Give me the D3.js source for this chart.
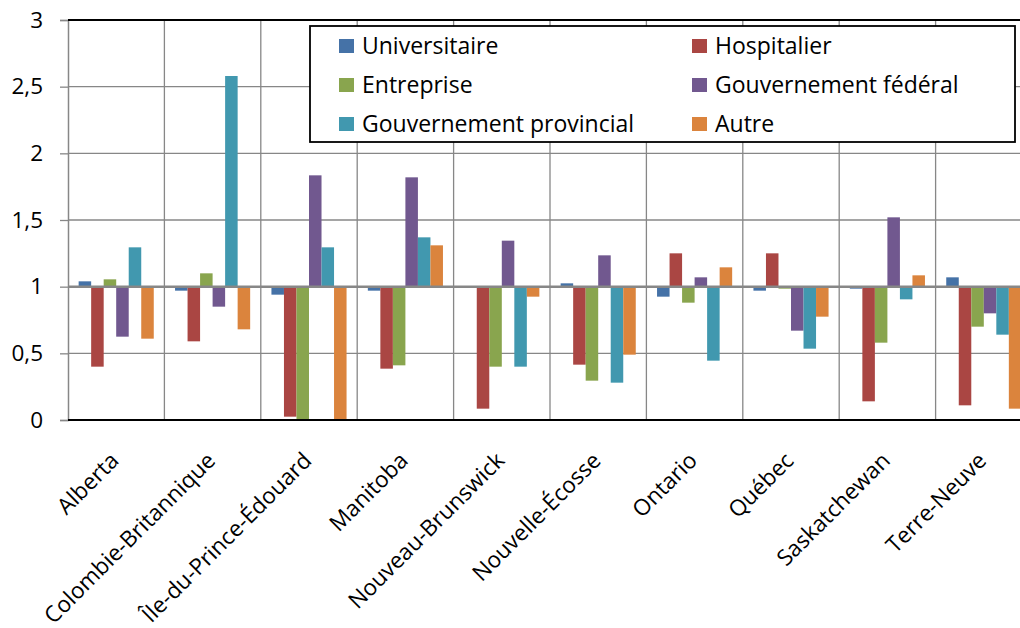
<!DOCTYPE html>
<html><head><meta charset="utf-8">
<script src="https://cdn.jsdelivr.net/npm/d3@7"></script>
<style>body{margin:0;background:#fff}svg{display:block}text{font-family:"Open Sans",sans-serif;fill:#000}</style>
</head><body><svg width="1020" height="628"></svg>
<script>
const categories = ["Alberta","Colombie-Britannique","Île-du-Prince-Édouard","Manitoba","Nouveau-Brunswick","Nouvelle-Écosse","Ontario","Québec","Saskatchewan","Terre-Neuve"];
const seriesNames = ["Universitaire","Hospitalier","Entreprise","Gouvernement fédéral","Gouvernement provincial","Autre"];
const universitaire = [1.04,0.97,0.94,0.97,1.0,1.025,0.925,0.97,0.985,1.07];
const hospitalier   = [0.40,0.59,0.025,0.385,0.085,0.415,1.25,1.25,0.14,0.11];
const entreprise    = [1.055,1.10,0.0,0.41,0.40,0.295,0.88,0.985,0.58,0.70];
const federal       = [0.625,0.85,1.835,1.82,1.345,1.235,1.07,0.67,1.52,0.80];
const provincial    = [1.295,2.58,1.295,1.37,0.40,0.28,0.445,0.535,0.905,0.64];
const autre         = [0.61,0.68,0.0,1.31,0.925,0.49,1.145,0.775,1.085,0.085];
const yTicks = [0,0.5,1,1.5,2,2.5,3];
const colors = ["#4572A7","#AA4643","#89A54E","#71588F","#4198AF","#DB843D"];
const seriesValues = [universitaire,hospitalier,entreprise,federal,provincial,autre];

const svg = d3.select("svg");
const L = 68, T = 20, B = 420, step = 96.4;
const x = d3.scaleBand().domain(categories).range([L, L + step*categories.length]).padding(0);
const xi = d3.scaleBand().domain(seriesNames).range([0, x.bandwidth()]).paddingInner(0).paddingOuter(0.85);
const y = d3.scaleLinear().domain([0,3]).range([B, T]);
const fmt = v => String(v).replace(".", ",");

// horizontal gridlines
svg.append("g").selectAll("line").data(yTicks.filter(t => t!==0 && t!==3 && t!==1)).join("line")
  .attr("x1", L).attr("x2", 1020).attr("y1", d=>y(d)).attr("y2", d=>y(d))
  .attr("stroke", "#878787").attr("stroke-width", 1.3);
// vertical gridlines at category boundaries
svg.append("g").selectAll("line").data(categories.slice(1)).join("line")
  .attr("x1", d=>x(d)).attr("x2", d=>x(d)).attr("y1", T).attr("y2", B)
  .attr("stroke", "#878787").attr("stroke-width", 1.3);

// bars from baseline 1
const data = [];
categories.forEach((c,i)=>seriesNames.forEach((s,j)=>data.push({c,s,v:seriesValues[j][i],col:colors[j]})));
svg.append("g").selectAll("rect").data(data).join("rect")
  .attr("x", d=>x(d.c)+xi(d.s))
  .attr("width", xi.bandwidth())
  .attr("y", d=>y(Math.max(d.v,1)))
  .attr("height", d=>Math.abs(y(d.v)-y(1)))
  .attr("fill", d=>d.col);

// left axis
const yAxis = d3.axisLeft(y).tickValues(yTicks).tickFormat(fmt).tickSize(8).tickPadding(17);
const ga = svg.append("g").attr("transform", `translate(${L},0)`).call(yAxis);
ga.select(".domain").attr("stroke","#878787").attr("stroke-width",1.5);
ga.selectAll(".tick line").attr("stroke","#878787").attr("stroke-width",1.3);
ga.selectAll(".tick text").attr("font-size",22.5).attr("font-family","Open Sans").attr("fill","#000");

// baseline at 1
svg.append("line").attr("x1",L).attr("x2",1020).attr("y1",y(1)).attr("y2",y(1)).attr("stroke","#878787").attr("stroke-width",2.5);
// top and bottom lines
svg.append("line").attr("x1",L).attr("x2",1020).attr("y1",y(0)).attr("y2",y(0)).attr("stroke","#000").attr("stroke-width",1.8);
svg.append("line").attr("x1",L).attr("x2",1020).attr("y1",y(3)).attr("y2",y(3)).attr("stroke","#000").attr("stroke-width",1.8);

// category labels
svg.append("g").selectAll("text").data(categories).join("text")
  .attr("transform", d=>`translate(${x(d)+x.bandwidth()/2+4},${B+42}) rotate(-45)`)
  .attr("text-anchor","end").attr("font-size",22.5).text(d=>d);

// legend
const lg = svg.append("g");
lg.append("rect").attr("x",310).attr("y",26).attr("width",705).attr("height",116)
  .attr("fill","#fff").attr("stroke","#000").attr("stroke-width",1.8);
seriesNames.forEach((s,j)=>{
  const col = j%2, row = Math.floor(j/2);
  const sx = col===0 ? 339 : 692, cy = 46 + row*39;
  lg.append("rect").attr("x",sx).attr("y",cy-7).attr("width",15).attr("height",14).attr("fill",colors[j]);
  lg.append("text").attr("x",sx+23).attr("y",cy).attr("dy","0.36em").attr("font-size",23).text(s);
});
</script></body></html>
